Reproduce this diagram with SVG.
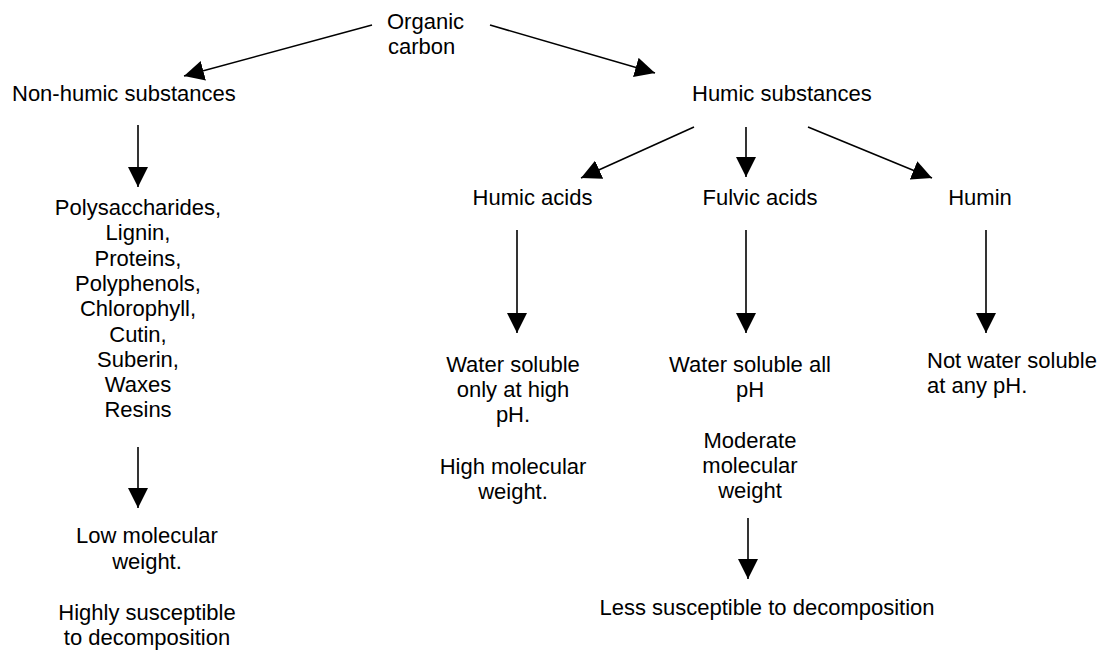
<svg xmlns="http://www.w3.org/2000/svg" width="1100" height="653" viewBox="0 0 1100 653">
<style>
text{font-family:"Liberation Sans",Arial,sans-serif;font-size:22px;fill:#000}
.c{text-anchor:middle}
.conn line{stroke:#000;stroke-width:1.6;marker-end:url(#ah)}
</style>
<defs>
<marker id="ah" markerUnits="userSpaceOnUse" markerWidth="20" markerHeight="20" refX="20" refY="10" orient="auto" viewBox="0 0 20 20">
<path d="M0,0 L20,10 L0,20 z" fill="#000"/>
</marker>
</defs>
<rect width="1100" height="653" fill="#fff"/>
<g class="conn" id="connectors">
<line x1="372" y1="25" x2="184" y2="76"/>
<line x1="490" y1="25" x2="655" y2="73"/>
<line x1="138" y1="125" x2="138" y2="187"/>
<line x1="138" y1="447" x2="138" y2="508"/>
<line x1="694" y1="127" x2="581" y2="178"/>
<line x1="746" y1="127" x2="746" y2="177"/>
<line x1="808" y1="127" x2="932" y2="178"/>
<line x1="517" y1="230" x2="517" y2="333"/>
<line x1="746" y1="230" x2="746" y2="333"/>
<line x1="986" y1="230" x2="986" y2="333"/>
<line x1="748" y1="518" x2="748" y2="579"/>
</g>
<g id="organic"><text x="387" y="29">Organic</text><text x="388" y="54">carbon</text></g>
<g id="nonhumic"><text x="12" y="101">Non-humic substances</text></g>
<g id="humic"><text x="692" y="101">Humic substances</text></g>
<g id="list" class="c">
<text class="c" x="138" y="215">Polysaccharides,</text>
<text class="c" x="138" y="240.3">Lignin,</text>
<text class="c" x="138" y="265.6">Proteins,</text>
<text class="c" x="138" y="290.9">Polyphenols,</text>
<text class="c" x="138" y="316.2">Chlorophyll,</text>
<text class="c" x="138" y="341.5">Cutin,</text>
<text class="c" x="138" y="366.8">Suberin,</text>
<text class="c" x="138" y="392.1">Waxes</text>
<text class="c" x="138" y="417.4">Resins</text>
</g>
<g id="lowmw">
<text class="c" x="147" y="543">Low molecular</text>
<text class="c" x="147" y="569">weight.</text>
<text class="c" x="147" y="620">Highly susceptible</text>
<text class="c" x="147" y="645">to decomposition</text>
</g>
<g id="humicacids"><text class="c" x="532.5" y="205">Humic acids</text></g>
<g id="fulvicacids"><text class="c" x="760" y="205">Fulvic acids</text></g>
<g id="humin"><text class="c" x="980" y="205">Humin</text></g>
<g id="ha-props">
<text class="c" x="513" y="372">Water soluble</text>
<text class="c" x="513" y="397">only at high</text>
<text class="c" x="513" y="422">pH.</text>
<text class="c" x="513" y="474">High molecular</text>
<text class="c" x="513" y="499">weight.</text>
</g>
<g id="fa-props">
<text class="c" x="750" y="372">Water soluble all</text>
<text class="c" x="750" y="397">pH</text>
<text class="c" x="750" y="448">Moderate</text>
<text class="c" x="750" y="473">molecular</text>
<text class="c" x="750" y="498">weight</text>
</g>
<g id="humin-props">
<text x="927" y="368">Not water soluble</text>
<text x="927" y="393">at any pH.</text>
</g>
<g id="less"><text class="c" x="767" y="615">Less susceptible to decomposition</text></g>
</svg>
